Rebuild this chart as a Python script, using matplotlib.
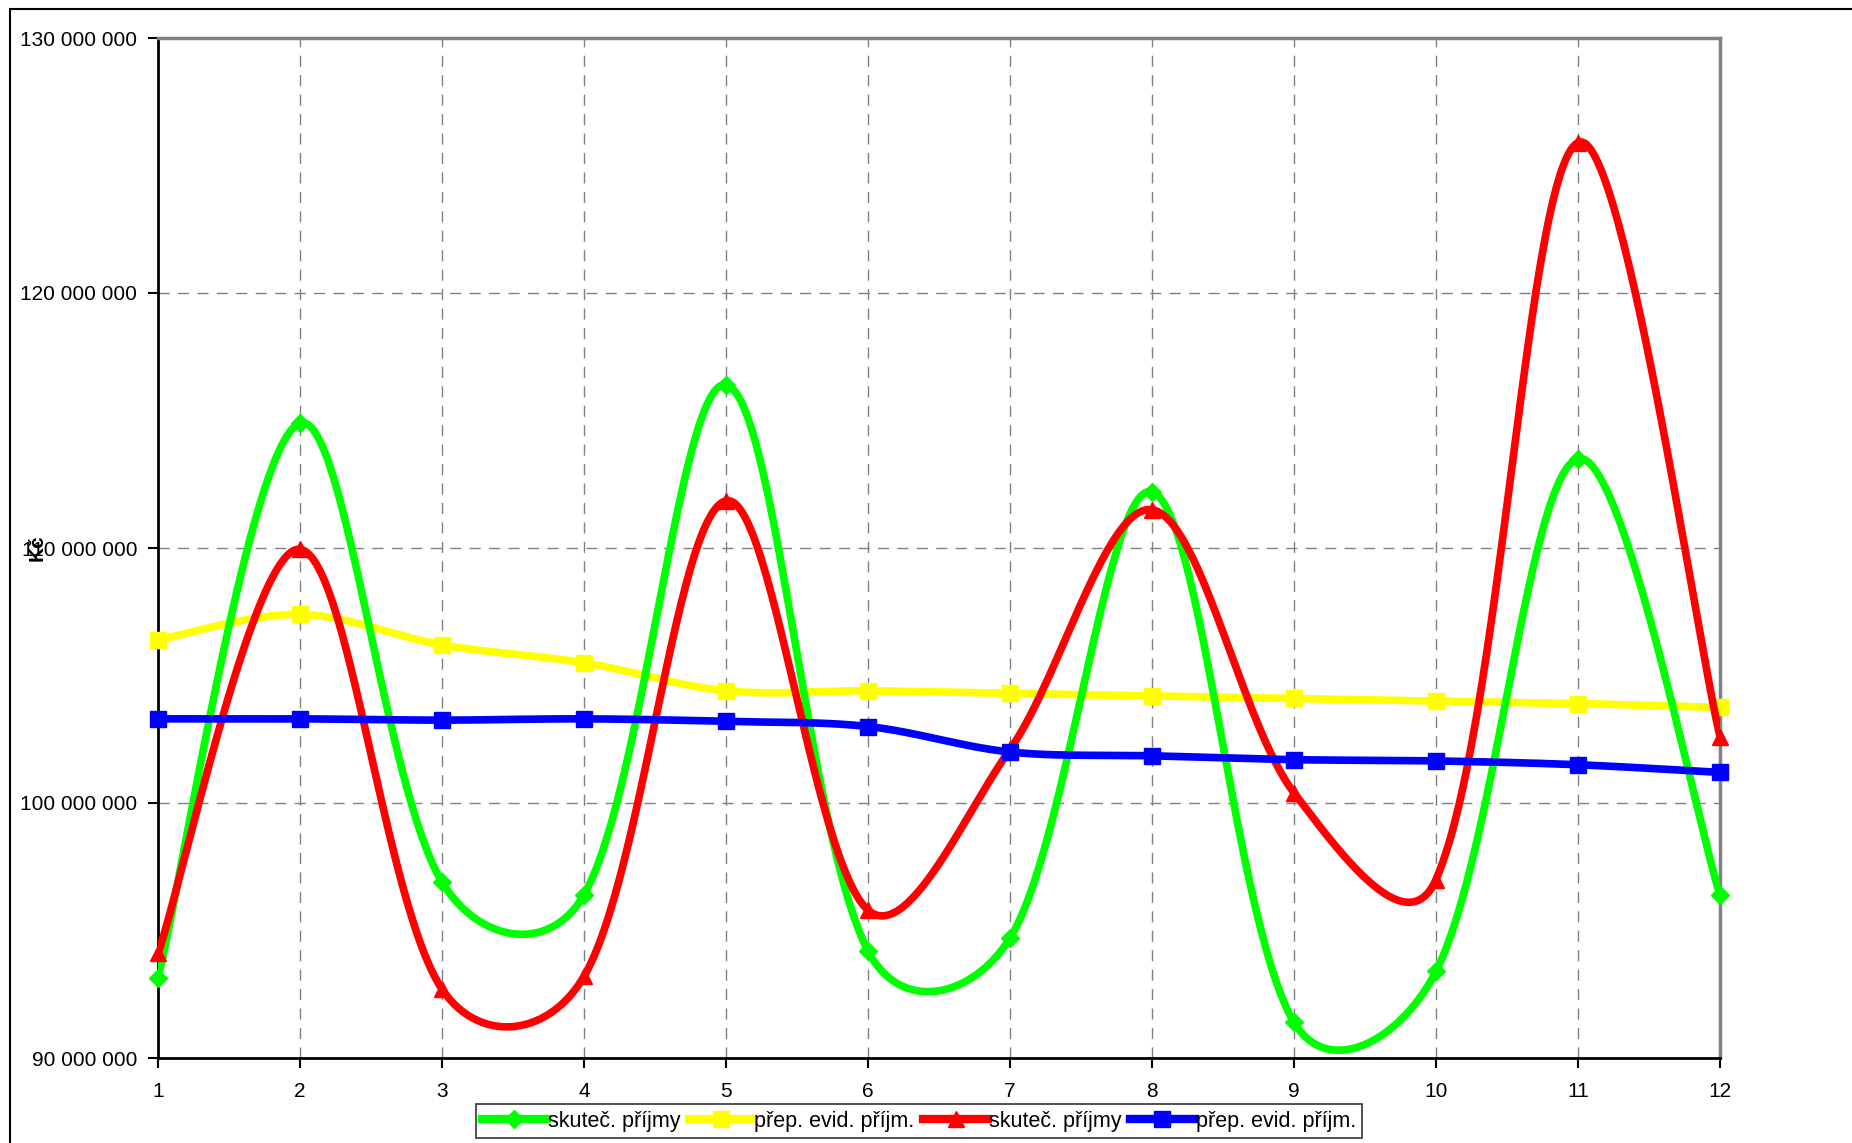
import numpy as np
import matplotlib.pyplot as plt
from matplotlib.lines import Line2D
from matplotlib.patches import Rectangle

# mesice 1..12
mesice = list(range(1, 13))

# hodnoty v Kc
skut_prijmy_1 = [93.15e6, 114.9e6, 96.9e6, 96.4e6, 116.4e6, 94.2e6,
                 94.7e6, 112.2e6, 91.4e6, 93.4e6, 113.5e6, 96.4e6]
prep_evid_1 = [106.4e6, 107.4e6, 106.2e6, 105.5e6, 104.4e6, 104.4e6,
               104.3e6, 104.2e6, 104.1e6, 104.0e6, 103.9e6, 103.75e6]
skut_prijmy_2 = [94.1e6, 109.95e6, 92.7e6, 93.2e6, 111.85e6, 95.8e6,
                 102.1e6, 111.5e6, 100.4e6, 97.0e6, 125.9e6, 102.6e6]
prep_evid_2 = [103.3e6, 103.3e6, 103.25e6, 103.3e6, 103.2e6, 103.0e6,
               102.0e6, 101.85e6, 101.7e6, 101.65e6, 101.5e6, 101.2e6]

legend_labels = ['skuteč. příjmy', 'přep. evid. příjm.', 'skuteč. příjmy', 'přep. evid. příjm.']
y_ticks = [90e6, 100e6, 110e6, 120e6, 130e6]


def smooth(x, y, yscale=10 / 142e6, n=60):
    # vyhlazeni podobne Excelu: Bezier, ridici body vazene delkou useku
    x = np.asarray(x, float)
    y = np.asarray(y, float)
    P = np.column_stack([x, y])
    m = len(P)

    def dist(a, b):
        return np.hypot(P[b, 0] - P[a, 0], (P[b, 1] - P[a, 1]) * yscale)

    xs, ys = [], []
    t = np.linspace(0, 1, n)
    for i in range(m - 1):
        i0, i3 = max(i - 1, 0), min(i + 2, m - 1)
        d01 = dist(i0, i) if i0 != i else 0
        d12 = dist(i, i + 1)
        d23 = dist(i + 1, i3) if i3 != i + 1 else 0
        f1 = d12 / (d01 + d12) / 3 if d01 > 0 else 1 / 6
        f2 = d12 / (d12 + d23) / 3 if d23 > 0 else 1 / 6
        p0, p3 = P[i], P[i + 1]
        p1 = p0 + (P[i + 1] - P[i0]) * f1
        p2 = p3 - (P[i3] - P[i]) * f2
        b = ((1 - t) ** 3)[:, None] * p0 + (3 * (1 - t) ** 2 * t)[:, None] * p1 \
            + (3 * (1 - t) * t ** 2)[:, None] * p2 + (t ** 3)[:, None] * p3
        xs.extend(b[:, 0])
        ys.extend(b[:, 1])
    return np.array(xs), np.array(ys)


plt.rcParams['font.family'] = ['Liberation Sans', 'DejaVu Sans']

fig = plt.figure(figsize=(18.52, 11.43), dpi=100)
ax = fig.add_axes([158 / 1852, 1 - 1058 / 1143, (1720 - 158) / 1852, (1058 - 38) / 1143])

# ramecek grafu
fig.patches.append(Rectangle((10 / 1852, -0.1), 1.2, 1 - 9 / 1143 + 0.1, transform=fig.transFigure,
                             fill=False, edgecolor='black', linewidth=1.5, zorder=0))

series = [
    (skut_prijmy_1, '#00ff00', 'D', 2, 9),
    (prep_evid_1, '#ffff00', 's', 1, 11),
    (skut_prijmy_2, '#ff0000', '^', 3, 12),
    (prep_evid_2, '#0000ff', 's', 4, 11),
]

handles = []
for (vals, color, marker, z, ms), label in zip(series, legend_labels):
    sx, sy = smooth(mesice, vals)
    ax.plot(sx, sy, color=color, lw=5.5, zorder=z + 2, solid_capstyle='round')
    ax.plot(mesice, vals, linestyle='none', marker=marker, color=color, markersize=ms,
            zorder=z + 2, clip_on=False)
    handles.append(Line2D([], [], color=color, lw=6, marker=marker, markersize=ms, label=label))

ax.set_xlim(1, 12)
ax.set_ylim(90e6, 130e6)
ax.set_xticks(mesice)
ax.set_yticks(y_ticks)
ax.set_yticklabels([f'{v:,.0f}'.replace(',', ' ') for v in y_ticks])
ax.tick_params(axis='both', direction='out', length=7, width=1.5, labelsize=15, colors='black')
ax.tick_params(axis='x', pad=10)
ax.tick_params(axis='y', pad=8)

ax.grid(True, color='#808080', linestyle=(0, (8, 6)), linewidth=1)
ax.set_axisbelow(True)

for s in ['left', 'bottom']:
    ax.spines[s].set_color('black')
    ax.spines[s].set_linewidth(2)
for s in ['top', 'right']:
    ax.spines[s].set_color('#808080')
    ax.spines[s].set_linewidth(2.5)

fig.text(37 / 1852, 1 - 548 / 1143, 'Kč', rotation=90, fontsize=15, fontweight='bold',
         ha='center', va='center')

leg = fig.legend(handles=handles, loc='center', bbox_to_anchor=(919 / 1852, 1 - 1121 / 1143),
                 ncol=4, fontsize=15.5, frameon=True, fancybox=False, edgecolor='black',
                 handlelength=3.0, handletextpad=0.05, columnspacing=0.4, borderpad=0.3,
                 borderaxespad=0)
leg.get_frame().set_linewidth(1.2)

fig.savefig('out.png', dpi=100, facecolor='white')
